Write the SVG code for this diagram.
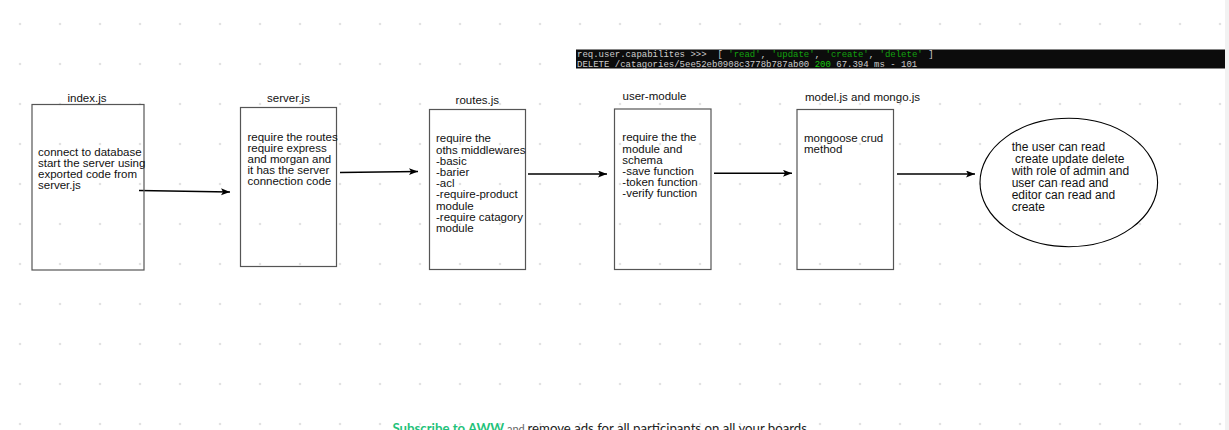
<svg xmlns="http://www.w3.org/2000/svg" width="1229" height="430" viewBox="0 0 1229 430">
<style>
.t{font-family:"Liberation Sans",Arial,sans-serif;font-size:11.5px;fill:#111}
.e{font-family:"Liberation Sans",Arial,sans-serif;font-size:12px;fill:#111}
.box{fill:none;stroke:#555;stroke-width:1.2}
.conn{stroke:#000;stroke-width:1.4;fill:none;marker-end:url(#ah)}
.mono{font-family:"Liberation Mono","DejaVu Sans Mono",monospace;font-size:9px;fill:#cccccc}
.g{fill:#13a10e}
.g2{fill:#16c60c}
</style>
<defs>
<pattern id="dots" x="0" y="4" width="40" height="40" patternUnits="userSpaceOnUse">
<circle cx="20" cy="20" r="1.3" fill="#e2e2e2"/>
</pattern>
<marker id="ah" markerUnits="userSpaceOnUse" markerWidth="10" markerHeight="8" refX="9" refY="3.5" orient="auto">
<path d="M0,0 L9,3.5 L0,7 L2,3.5 z" fill="#000"/>
</marker>
</defs>
<rect width="1229" height="430" fill="#fff"/>
<rect width="1225" height="430" fill="url(#dots)"/>
<rect x="1225" y="0" width="4" height="430" fill="#f2f2f2"/>

<g id="terminal">
<rect x="576" y="49.5" width="649" height="19" fill="#0c0c0c"/>
<text class="mono" x="577" y="56.5" xml:space="preserve">req.user.capabilites &gt;&gt;&gt;  [ <tspan class="g">'read'</tspan>, <tspan class="g">'update'</tspan>, <tspan class="g">'create'</tspan>, <tspan class="g">'delete'</tspan> ]</text>
<text class="mono" x="577" y="66.5" xml:space="preserve">DELETE /catagories/5ee52eb0908c3778b787ab00 <tspan class="g2">200</tspan> 67.394 ms - 101</text>
</g>

<g id="connectors">
<line class="conn" x1="139" y1="190.5" x2="230" y2="192"/>
<line class="conn" x1="340" y1="172.5" x2="418" y2="171.5"/>
<line class="conn" x1="528" y1="174" x2="607" y2="174"/>
<line class="conn" x1="714" y1="173.3" x2="792" y2="173.3"/>
<line class="conn" x1="897" y1="174" x2="975" y2="174"/>
</g>

<g id="index">
<text class="t" x="87" y="102" text-anchor="middle">index.js</text>
<rect class="box" x="32" y="104.5" width="112" height="165.5"/>
<text class="t" x="38" y="156">connect to database</text>
<text class="t" x="38" y="167">start the server using</text>
<text class="t" x="38" y="178">exported code from</text>
<text class="t" x="38" y="189">server.js</text>
</g>

<g id="server">
<text class="t" x="288.5" y="102" text-anchor="middle">server.js</text>
<rect class="box" x="240.5" y="107.5" width="96" height="159"/>
<text class="t" x="247.5" y="141">require the routes</text>
<text class="t" x="247.5" y="152">require express</text>
<text class="t" x="247.5" y="163">and morgan and</text>
<text class="t" x="247.5" y="174">it has the server</text>
<text class="t" x="247.5" y="185">connection code</text>
</g>

<g id="routes">
<text class="t" x="477.3" y="104" text-anchor="middle">routes.js</text>
<rect class="box" x="429.5" y="109.5" width="96" height="160"/>
<text class="t" x="436" y="142.3">require the</text>
<text class="t" x="436" y="153.5">oths middlewares</text>
<text class="t" x="436" y="164.7">-basic</text>
<text class="t" x="436" y="175.9">-barier</text>
<text class="t" x="436" y="187.1">-acl</text>
<text class="t" x="436" y="198.3">-require-product</text>
<text class="t" x="436" y="209.5">module</text>
<text class="t" x="436" y="220.7">-require catagory</text>
<text class="t" x="436" y="231.9">module</text>
</g>

<g id="user-module">
<text class="t" x="622.5" y="100">user-module</text>
<rect class="box" x="614.5" y="109" width="96.5" height="160.5"/>
<text class="t" x="622.3" y="141.3">require the the</text>
<text class="t" x="622.3" y="152.5">module and</text>
<text class="t" x="622.3" y="163.7">schema</text>
<text class="t" x="622.3" y="174.9">-save function</text>
<text class="t" x="622.3" y="186.1">-token function</text>
<text class="t" x="622.3" y="197.3">-verify function</text>
</g>

<g id="model">
<text class="t" x="805" y="100.5">model.js and mongo.js</text>
<rect class="box" x="797" y="109.5" width="96.5" height="160"/>
<text class="t" x="804" y="141.5">mongoose crud</text>
<text class="t" x="804" y="153">method</text>
</g>

<g id="result">
<ellipse cx="1068.8" cy="182.5" rx="88.8" ry="64.2" fill="none" stroke="#000" stroke-width="1.1"/>
<text class="e" x="1011.7" y="151" xml:space="preserve">the user can read</text>
<text class="e" x="1011.7" y="163" xml:space="preserve"> create update delete</text>
<text class="e" x="1011.7" y="175" xml:space="preserve">with role of admin and</text>
<text class="e" x="1011.7" y="187" xml:space="preserve">user can read and</text>
<text class="e" x="1011.7" y="199" xml:space="preserve">editor can read and</text>
<text class="e" x="1011.7" y="211" xml:space="preserve">create</text>
</g>

<g id="banner">
<text x="392.5" y="433" font-family="Lato,'Liberation Sans',sans-serif" font-size="13.2" xml:space="preserve"><tspan font-weight="bold" fill="#1fc27a">Subscribe to AWW</tspan><tspan font-size="11" fill="#666"> and </tspan><tspan fill="#222">remove ads for all participants on all your boards</tspan></text>
</g>
</svg>
